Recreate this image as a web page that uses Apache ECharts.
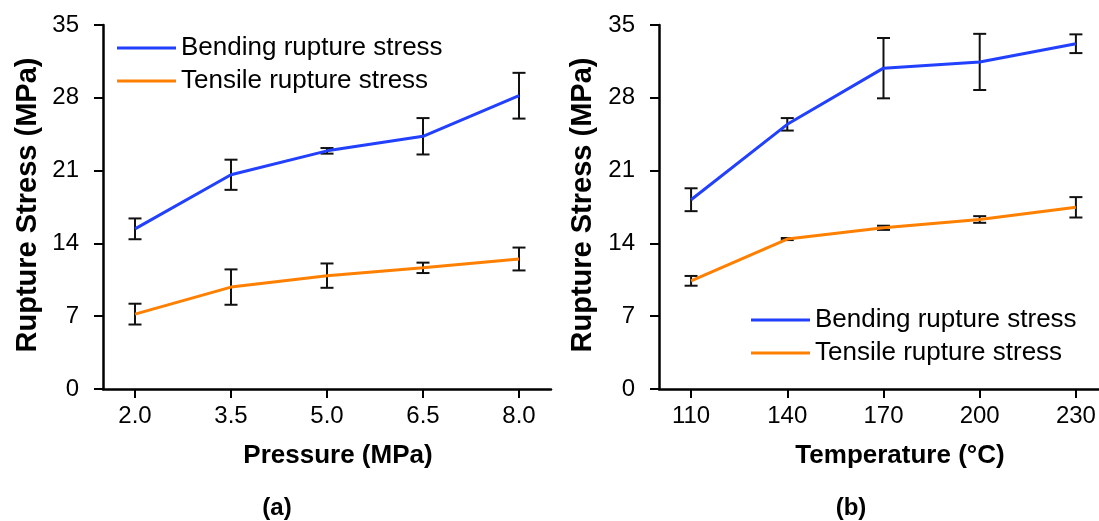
<!DOCTYPE html>
<html>
<head>
<meta charset="utf-8">
<script src="https://cdn.jsdelivr.net/npm/echarts@6/dist/echarts.min.js"></script>
<style>
  html, body { margin: 0; padding: 0; background: #fff; }
  #chart { width: 1099px; height: 521px; }
</style>
</head>
<body>
<div id="chart"></div>
<script>
// x values
const pressure = [2.0, 3.5, 5.0, 6.5, 8.0]
const temperature = [110, 140, 170, 200, 230]

// (a) rupture stress vs pressure, MPa
const bendP = [15.4, 20.6, 22.9, 24.3, 28.2]
const bendPErr = [1.0, 1.45, 0.27, 1.75, 2.2]
const tensP = [7.2, 9.8, 10.9, 11.65, 12.5]
const tensPErr = [1.0, 1.7, 1.17, 0.5, 1.1]

// (b) rupture stress vs temperature, MPa
const bendT = [18.2, 25.45, 30.85, 31.45, 33.2]
const bendTErr = [1.1, 0.6, 2.9, 2.7, 0.9]
const tensT = [10.4, 14.42, 15.5, 16.3, 17.47]
const tensTErr = [0.47, 0.1, 0.2, 0.32, 0.98]

const FONT = "'Liberation Sans', Arial, sans-serif"
const BLUE = '#2240ff'
const ORANGE = '#ff8000'
const NAMES = ['Bending rupture stress', 'Tensile rupture stress']

const pairs = (xs, ys) => xs.map((x, i) => [x, ys[i]])
const errRows = (xs, ys, es) => xs.map((x, i) => [x, ys[i] - es[i], ys[i] + es[i]])

function renderErr(params, api) {
  const lo = api.coord([api.value(0), api.value(1)])
  const hi = api.coord([api.value(0), api.value(2)])
  const w = 6.5
  const style = { stroke: '#111', lineWidth: 2 }
  return {
    type: 'group',
    children: [
      { type: 'line', shape: { x1: lo[0], y1: lo[1], x2: hi[0], y2: hi[1] }, style },
      { type: 'line', shape: { x1: lo[0] - w, y1: lo[1], x2: lo[0] + w, y2: lo[1] }, style },
      { type: 'line', shape: { x1: hi[0] - w, y1: hi[1], x2: hi[0] + w, y2: hi[1] }, style },
    ],
  }
}

const axisLine = { show: true, lineStyle: { color: '#000', width: 2.5 } }
const axisTick = { show: true, inside: false, length: 9, lineStyle: { color: '#000', width: 2 } }

function xAxis(gridIndex, min, max, ticks, fmt) {
  return {
    type: 'value', gridIndex, min, max,
    axisLine, axisTick: { ...axisTick, customValues: ticks },
    axisLabel: { customValues: ticks, formatter: fmt, color: '#000', fontSize: 24, fontFamily: FONT, margin: 15 },
    splitLine: { show: false },
  }
}

function yAxis(gridIndex) {
  return {
    type: 'value', gridIndex, min: 0, max: 35, interval: 7,
    axisLine, axisTick,
    axisLabel: { color: '#000', fontSize: 24, fontFamily: FONT, margin: 24 },
    splitLine: { show: false },
  }
}

function legend(left, top) {
  return {
    left, top, orient: 'vertical', data: NAMES,
    icon: 'rect', itemWidth: 59, itemHeight: 3, itemGap: 5,
    textStyle: { color: '#000', fontSize: 26, fontFamily: FONT, lineHeight: 28 },
  }
}

function line(name, color, xi, xs, ys) {
  return {
    name, type: 'line', xAxisIndex: xi, yAxisIndex: xi,
    data: pairs(xs, ys), symbol: 'none', lineStyle: { color, width: 3 }, itemStyle: { color },
  }
}

function errs(xi, xs, ys, es) {
  return { type: 'custom', xAxisIndex: xi, yAxisIndex: xi, data: errRows(xs, ys, es), renderItem: renderErr, z: 3 }
}

function label(text, x, y, size, rot) {
  return {
    type: 'text', x, y, rotation: rot || 0,
    style: { text, fill: '#000', font: `bold ${size}px ${FONT}`, textAlign: 'center', textVerticalAlign: 'middle' },
  }
}

const chart = echarts.init(document.getElementById('chart'), null, { renderer: 'canvas' })
chart.setOption({
  animation: false,
  backgroundColor: '#fff',
  grid: [
    { left: 103, top: 25, width: 448, height: 364 },
    // right panel is cut by the page edge
    { left: 659, top: 25, width: 440, height: 364 },
  ],
  xAxis: [
    xAxis(0, 1.5, 8.5, pressure, v => v.toFixed(1)),
    xAxis(1, 100, 237.2, temperature, v => String(v)),
  ],
  yAxis: [yAxis(0), yAxis(1)],
  legend: [legend(112, 29), legend(746, 301)],
  series: [
    line(NAMES[0], BLUE, 0, pressure, bendP),
    line(NAMES[1], ORANGE, 0, pressure, tensP),
    errs(0, pressure, bendP, bendPErr),
    errs(0, pressure, tensP, tensPErr),
    line(NAMES[0], BLUE, 1, temperature, bendT),
    line(NAMES[1], ORANGE, 1, temperature, tensT),
    errs(1, temperature, bendT, bendTErr),
    errs(1, temperature, tensT, tensTErr),
  ],
  graphic: [
    label('Rupture Stress (MPa)', 28, 205, 29, Math.PI / 2),
    label('Rupture Stress (MPa)', 583, 205, 29, Math.PI / 2),
    label('Pressure (MPa)', 338, 456, 26),
    label('Temperature (°C)', 900, 456, 26),
    label('(a)', 277, 508, 24),
    label('(b)', 851, 508, 24),
  ],
})
</script>
</body>
</html>
